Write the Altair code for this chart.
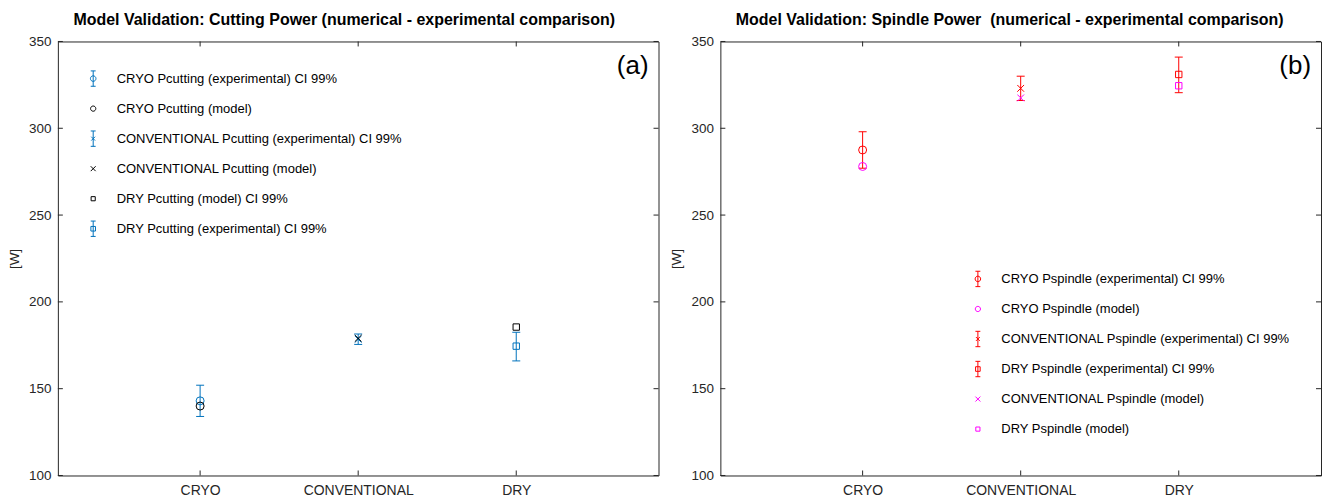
import altair as alt
import pandas as pd

FONT = "Liberation Sans"
AX = "#262626"

# ---------------- data ----------------
categories = ["CRYO", "CONVENTIONAL", "DRY"]
y_ticks = [100, 150, 200, 250, 300, 350]

# Cutting power (panel a)
cut_exp = [143.0, 178.5, 174.5]
cut_exp_lo = [134.0, 175.5, 166.0]
cut_exp_hi = [152.0, 181.5, 182.5]
cut_model = [140.0, 179.0, 185.5]
cut_exp_names = ["CRYO Pcutting (experimental) CI 99%",
                 "CONVENTIONAL Pcutting (experimental) CI 99%",
                 "DRY Pcutting (experimental) CI 99%"]
cut_model_names = ["CRYO Pcutting (model)",
                   "CONVENTIONAL Pcutting (model)",
                   "DRY Pcutting (model) CI 99%"]
cut_order = [cut_exp_names[0], cut_model_names[0], cut_exp_names[1],
             cut_model_names[1], cut_model_names[2], cut_exp_names[2]]

# Spindle power (panel b)
spin_exp = [287.5, 323.0, 331.0]
spin_exp_lo = [277.0, 316.0, 320.5]
spin_exp_hi = [298.0, 330.0, 341.0]
spin_model = [278.0, 317.5, 324.5]
spin_exp_names = ["CRYO Pspindle (experimental) CI 99%",
                  "CONVENTIONAL Pspindle (experimental) CI 99%",
                  "DRY Pspindle (experimental) CI 99%"]
spin_model_names = ["CRYO Pspindle (model)",
                    "CONVENTIONAL Pspindle (model)",
                    "DRY Pspindle (model)"]
spin_order = [spin_exp_names[0], spin_model_names[0], spin_exp_names[1],
              spin_exp_names[2], spin_model_names[1], spin_model_names[2]]

titles = ["Model Validation: Cutting Power (numerical - experimental comparison)",
          "Model Validation: Spindle Power \u00a0(numerical - experimental comparison)"]
tags = ["(a)", "(b)"]

# ---------------- styling ----------------
POINT_SHAPE = {
    "CRYO": "circle",
    "CONVENTIONAL": "M-0.85,-0.85L0.85,0.85M-0.85,0.85L0.85,-0.85",
    "DRY": "M-0.8,-0.8L0.8,-0.8L0.8,0.8L-0.8,0.8Z",
}
BAR = "M0,-1L0,1M-0.32,-1L0.32,-1M-0.32,1L0.32,1"
LEG_EXP = {
    "CRYO": BAR + "M0.36,0A0.36,0.36 0 1,1 -0.36,0A0.36,0.36 0 1,1 0.36,0Z",
    "CONVENTIONAL": BAR + "M-0.25,-0.25L0.25,0.25M-0.25,0.25L0.25,-0.25",
    "DRY": BAR + "M-0.3,-0.3L0.3,-0.3L0.3,0.3L-0.3,0.3Z",
}
LEG_MOD = {
    "CRYO": "M0.34,0A0.34,0.34 0 1,1 -0.34,0A0.34,0.34 0 1,1 0.34,0Z",
    "CONVENTIONAL": "M-0.32,-0.32L0.32,0.32M-0.32,0.32L0.32,-0.32",
    "DRY": "M-0.27,-0.27L0.27,-0.27L0.27,0.27L-0.27,0.27Z",
}
LEG_SIZE = 237


def make_panel(exp, lo, hi, model, exp_names, model_names, order,
               exp_color, model_color, title, tag, W, H, lx, ly, tdx):
    df_exp = pd.DataFrame({"category": categories, "value": exp, "lo": lo,
                           "hi": hi, "series": exp_names})
    df_mod = pd.DataFrame({"category": categories, "value": model,
                           "series": model_names})
    pts = pd.concat([df_exp, df_mod], ignore_index=True)

    cat_of, kind_of = {}, {}
    for c, n in zip(categories, exp_names):
        cat_of[n], kind_of[n] = c, "exp"
    for c, n in zip(categories, model_names):
        cat_of[n], kind_of[n] = c, "model"
    shape_range = [POINT_SHAPE[cat_of[n]] for n in order]
    color_range = [exp_color if kind_of[n] == "exp" else model_color for n in order]
    glyphs = [(LEG_EXP if kind_of[n] == "exp" else LEG_MOD)[cat_of[n]] for n in order]

    xscale = alt.Scale(type="point", domain=categories, padding=0.9)
    yscale = alt.Scale(domain=[100, 350], nice=False, zero=False)
    x_axis = alt.Axis(title=None, labelAngle=0, ticks=False, domain=False, grid=False,
                      labelFont=FONT, labelFontSize=14, labelColor=AX, labelPadding=8)
    y_axis = alt.Axis(title="[W]", values=y_ticks, ticks=False, domain=False, grid=False,
                      labelFont=FONT, labelFontSize=13.5, labelColor=AX, labelPadding=7,
                      titleFont=FONT, titleFontSize=13.5, titleFontWeight="normal",
                      titleColor=AX, titlePadding=7)

    X = alt.X("category:N", scale=xscale, axis=x_axis)

    err = alt.Chart(df_exp).mark_rule(color=exp_color, strokeWidth=1).encode(
        x=X, y=alt.Y("lo:Q", scale=yscale, axis=y_axis), y2="hi:Q")
    caps = alt.Chart(df_exp).transform_fold(["lo", "hi"], as_=["end", "bound"]).mark_tick(
        color=exp_color, orient="horizontal", size=8, thickness=1, opacity=1).encode(
        x=X, y=alt.Y("bound:Q", scale=yscale, axis=y_axis))

    points = alt.Chart(pts).mark_point(filled=False, size=64, strokeWidth=1, opacity=1).encode(
        x=X,
        y=alt.Y("value:Q", scale=yscale, axis=y_axis),
        color=alt.Color("series:N", scale=alt.Scale(domain=order, range=color_range), legend=None),
        shape=alt.Shape("series:N", scale=alt.Scale(domain=order, range=shape_range), legend=None),
    )

    legend = alt.Legend(
        title=None, orient="none", legendX=lx, legendY=ly, padding=0,
        symbolSize=LEG_SIZE, symbolStrokeWidth=1, symbolOpacity=1,
        labelFont=FONT, labelFontSize=13, labelColor="black", labelOffset=15,
        rowPadding=9.1, gridAlign="all", labelLimit=600,
    )
    # legend-only layer: no marks drawn (empty data), legend built from the explicit domains
    legend_layer = alt.Chart(pts).transform_filter("false").mark_point(
        filled=False, strokeWidth=1, opacity=1).encode(
        x=X,
        y=alt.Y("value:Q", scale=yscale, axis=y_axis),
        color=alt.Color("series:N", scale=alt.Scale(domain=order, range=color_range), legend=legend),
        shape=alt.Shape("series:N", scale=alt.Scale(domain=order, range=glyphs), legend=legend),
    )

    tick_df = pd.DataFrame({"t": y_ticks})
    cat_df = pd.DataFrame({"category": categories})
    yt_left = alt.Chart(tick_df).mark_rule(color=AX, strokeWidth=1).encode(
        y=alt.Y("t:Q", scale=yscale, axis=y_axis), x=alt.value(0), x2=alt.value(5))
    yt_right = alt.Chart(tick_df).mark_rule(color=AX, strokeWidth=1).encode(
        y=alt.Y("t:Q", scale=yscale, axis=y_axis), x=alt.value(W - 5), x2=alt.value(W))
    xt_bot = alt.Chart(cat_df).mark_rule(color=AX, strokeWidth=1).encode(
        x=X, y=alt.value(H - 5), y2=alt.value(H))
    xt_top = alt.Chart(cat_df).mark_rule(color=AX, strokeWidth=1).encode(
        x=X, y=alt.value(0), y2=alt.value(5))

    tag_text = alt.Chart(pd.DataFrame({"tag": [tag]})).mark_text(
        font=FONT, fontSize=26, align="right", baseline="middle", color="black").encode(
        text="tag:N", x=alt.value(W - 10), y=alt.value(25))

    return alt.layer(err, caps, points, legend_layer, yt_left, yt_right, xt_bot, xt_top,
                     tag_text).resolve_scale(color="independent", shape="independent").properties(
        width=W, height=H,
        title=alt.TitleParams(text=title, font=FONT, fontSize=16, fontWeight="bold",
                              color="black", anchor="middle", dx=tdx, offset=7),
    )


left = make_panel(cut_exp, cut_exp_lo, cut_exp_hi, cut_model, cut_exp_names, cut_model_names,
                  cut_order, "#0072BD", "#000000", titles[0], tags[0],
                  602, 435, 26.9, 28.7, -14)
right = make_panel(spin_exp, spin_exp_lo, spin_exp_hi, spin_model, spin_exp_names,
                   spin_model_names, spin_order, "#FF0000", "#FF00FF", titles[1], tags[1],
                   602, 435, 249.6, 229.5, -11)

chart = alt.hconcat(left, right, spacing=9).properties(
    padding={"left": 6, "top": 10, "right": 0, "bottom": 0},
    background="white",
).configure_view(stroke=AX, strokeWidth=1)

chart.save("out.html", embed_options={"renderer": "svg", "actions": False})
